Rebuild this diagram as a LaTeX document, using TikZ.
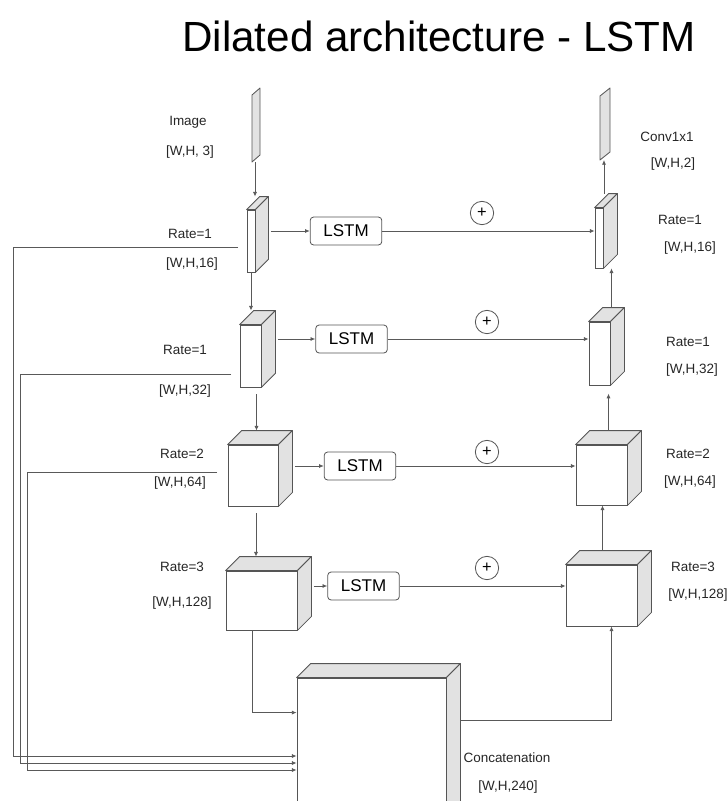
\documentclass[tikz,border=0pt]{standalone}
\usepackage{fontspec}
\setmainfont{Liberation Sans}
\usepackage{tikz}
\usetikzlibrary{arrows.meta, positioning, calc}
\definecolor{faceGray}{RGB}{226, 226, 226}
\definecolor{edgeGray}{RGB}{85, 85, 85}

% one 3D layer block: name, cx, cy, width, height, depth (all in px units)
\newcommand{\layer}[6]{%
	\node[cube_front, minimum width=#4*0.03cm, minimum height=#5*0.03cm] (#1) at (#2,#3) {};
	\draw[cube_face] (#1.north west) -- ++(#6,-#6) -- ($(#1.north east)+(#6,-#6)$) -- (#1.north east) -- cycle;
	\draw[cube_face] (#1.north east) -- ++(#6,-#6) -- ($(#1.south east)+(#6,-#6)$) -- (#1.south east) -- cycle;
	\coordinate (#1-top) at ($(#1.north)+(#6/2,-#6)$);
	\coordinate (#1-back) at ($(#1.east)+(#6,-#6/2)$);
}

\begin{document}
\begin{tikzpicture}[x=0.03cm, y=-0.03cm,
				lbl/.style        = {font=\fontsize{11.5}{13}\selectfont, text=black!85},
				lstm_box/.style   = {draw=edgeGray, rectangle, rounded corners=3pt, line width=0.7pt,
					minimum width=2.15cm, minimum height=0.84cm, font=\fontsize{14.5}{16}\selectfont},
				plus_node/.style  = {draw=edgeGray, circle, line width=0.7pt, minimum size=0.7cm,
					inner sep=0pt, font=\fontsize{14}{14}\selectfont},
				cube_front/.style = {draw=edgeGray, fill=white, rectangle, inner sep=0pt, line width=0.7pt},
				cube_face/.style  = {draw=edgeGray, fill=faceGray, line width=0.7pt, line join=round},
				slab/.style       = {draw=edgeGray, fill=faceGray, line width=0.7pt, line join=round},
				line/.style       = {-{Latex[length=4pt,width=3.5pt]}, draw=black!65, line width=0.7pt}
				]
				\clip (0,0) rectangle (727,801);
				
				\node[font=\fontsize{36}{40}\selectfont] (title) at (439, 36) {Dilated architecture - LSTM};
				
				% input and output slabs
				\draw[slab] (252,95) -- (260,88) -- (260,155) -- (252,162) -- cycle;
				\coordinate (img) at (255,162);
				\draw[slab] (600,96) -- (610,88) -- (610,152) -- (600,160) -- cycle;
				\coordinate (conv) at (604,160);
				
				% encoder
				\layer{enc1}{251}{241}{8}{62}{13}
				\layer{enc2}{250.5}{356}{21}{62}{14}
				\layer{enc3}{253}{475.5}{50}{61}{14}
				\layer{enc4}{261.5}{600.5}{71}{59}{14}
				
				% decoder
				\layer{dec1}{599}{238}{8}{60}{14}
				\layer{dec2}{599.5}{353.5}{21}{63}{14}
				\layer{dec3}{601.5}{475}{51}{60}{14}
				\layer{dec4}{601.5}{595.5}{71}{61}{14}
				
				% concatenation
				\layer{concat}{371.5}{759}{149}{162}{14}
				
				\node[lbl] at (188, 122) {Image};
				\node[lbl] at (190, 152) {[W,H, 3]};
				\node[lbl] at (190, 234) {Rate=1};
				\node[lbl] at (192, 264) {[W,H,16]};
				\node[lbl] at (185, 350) {Rate=1};
				\node[lbl] at (185, 391) {[W,H,32]};
				\node[lbl] at (182, 454) {Rate=2};
				\node[lbl] at (180, 483) {[W,H,64]};
				\node[lbl] at (182, 567) {Rate=3};
				\node[lbl] at (182, 603) {[W,H,128]};
				
				\node[lbl] at (667, 137) {Conv1x1};
				\node[lbl] at (673, 164) {[W,H,2]};
				\node[lbl] at (680, 220) {Rate=1};
				\node[lbl] at (690, 248) {[W,H,16]};
				\node[lbl] at (688, 342) {Rate=1};
				\node[lbl] at (692, 370) {[W,H,32]};
				\node[lbl] at (688, 454) {Rate=2};
				\node[lbl] at (690, 482) {[W,H,64]};
				\node[lbl] at (693, 567) {Rate=3};
				\node[lbl] at (698, 595) {[W,H,128]};
				
				\node[lbl] at (507, 758) {Concatenation};
				\node[lbl] at (508, 787) {[W,H,240]};
				
				% lstm rows
				\node[lstm_box] (lstm1) at (346, 231) {LSTM};
				\node[lstm_box] (lstm2) at (351.5, 339) {LSTM};
				\node[lstm_box] (lstm3) at (360, 466) {LSTM};
				\node[lstm_box] (lstm4) at (363.5, 586) {LSTM};
				
				\node[plus_node] (plus1) at (482, 213) {+};
				\node[plus_node] (plus2) at (487, 322) {+};
				\node[plus_node] (plus3) at (487, 452) {+};
				\node[plus_node] (plus4) at (487, 568) {+};
				
				\foreach \i in {1,...,4} {
					\draw[line, shorten <=2pt] (lstm\i.west -| enc\i-back) -- (lstm\i);
					\draw[line] (lstm\i) -- (lstm\i -| dec\i.west);
				}
				
				% down path
				\draw[line] (img) -- (img |- enc1-top);
				\draw[line] (enc1.south) -- (enc1.south |- enc2-top);
				\draw[line, shorten <=6pt] ($(enc2.south)+(6,0)$) -- ($(enc2.south |- enc3-top)+(6,0)$);
				\draw[line, shorten <=6pt] ($(enc3.south)+(3,0)$) -- ($(enc3.south |- enc4-top)+(3,0)$);
				\draw[line] ($(enc4.south)+(-9,0)$) |- ($(concat.north west)+(0,35)$);
				
				% skip connections into concatenation
				\coordinate (skip1) at (238, 247);
				\coordinate (skip2) at (231, 374);
				\coordinate (skip3) at (217, 472);
				\coordinate (bend1) at (13, 756);
				\coordinate (bend2) at (20, 763);
				\coordinate (bend3) at (27, 770);
				\foreach \i in {1,2,3} {
					\draw[line] (skip\i) -| (bend\i) -- (bend\i -| concat.west);
				}
				
				% up path
				\draw[line] ($(concat-back)+(0,-32)$) -| ($(dec4.south)+(10,0)$);
				\draw[line] ($(dec4-top)+(-6,0)$) -- ($(dec4-top |- dec3.south)+(-6,0)$);
				\draw[line, shorten >=7pt] (dec3-top) -- (dec3-top |- dec2.south);
				\draw[line] ($(dec2-top)+(5,0)$) -- ($(dec2-top |- dec1.south)+(5,0)$);
				\draw[line] ($(dec1-top)+(-2,0)$) -- ($(dec1-top |- conv)+(-2,0)$);
			\end{tikzpicture}
\end{document}
